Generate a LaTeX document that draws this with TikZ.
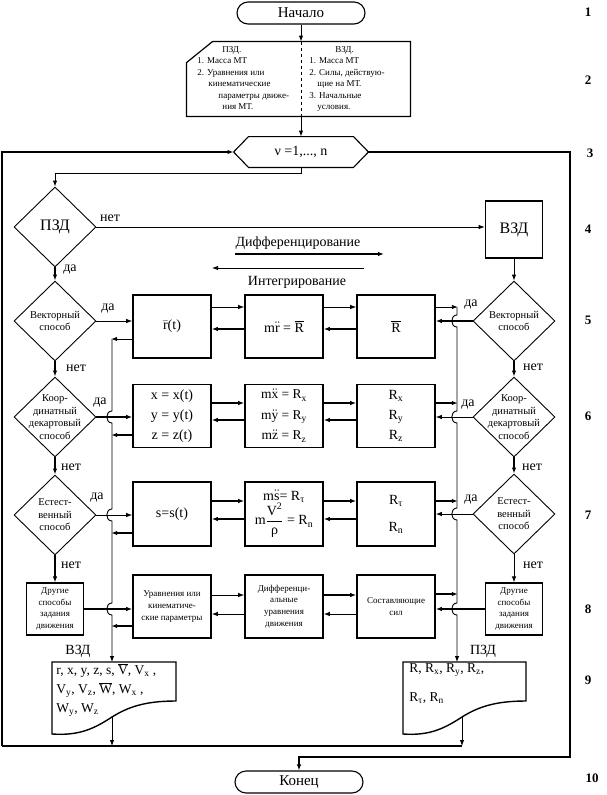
\documentclass[tikz,border=0pt]{standalone}
\usepackage{fontspec}
\setmainfont{Liberation Serif}
\usetikzlibrary{shapes.geometric, positioning, arrows.meta}

\tikzset{
  term/.style={draw, line width=1.1pt, rounded corners=11pt, minimum width=128pt, minimum height=22pt, inner sep=0pt, font=\fontsize{15}{18}\selectfont},
  cond/.style={diamond, draw, line width=0.9pt, minimum width=82pt, minimum height=80pt, inner sep=0pt},
  condtxt/.style={align=center, inner sep=0pt, font=\fontsize{10.5}{12.5}\selectfont},
  bigtxt/.style={inner sep=0pt, font=\fontsize{16}{18}\selectfont},
  box/.style={draw, line width=1.6pt, minimum width=78pt, minimum height=63pt, inner sep=1pt, align=center, font=\fontsize{14}{20}\selectfont},
  smallbox/.style={box, font=\fontsize{9}{11.7}\selectfont},
  other/.style={draw, line width=1.2pt, minimum width=57pt, minimum height=52pt, inner sep=0pt, align=center, font=\fontsize{9}{11.5}\selectfont},
  lbl/.style={inner sep=0pt, font=\fontsize{14}{16}\selectfont},
  arr/.style={-{Latex[length=6pt,width=4.5pt]}},
  fat/.style={line width=2.2pt},
  docline/.style={line width=1.4pt},
  doctxt/.style={align=left, inner sep=0pt, font=\fontsize{13.5}{19}\selectfont},
  cardtxt/.style={align=left, inner sep=0pt, font=\fontsize{9}{11.5}\selectfont},
  rownum/.style={font=\fontsize{13}{15}\selectfont\bfseries},
}

\begin{document}
\begin{tikzpicture}[x=1pt, y=-1pt, node distance=112pt, line width=0.9pt]
\useasboundingbox (0,0) rectangle (607,795);

% begin, end
\node[term] (start) at (301,13) {Начало};
\node[term] (stop) at (299,782) {Конец};

% given data card
\node[minimum width=223pt, minimum height=74pt, inner sep=0pt] (card) at (298.5,79) {};
\draw[line width=1.2pt] (card.south west) -- ([yshift=-21pt]card.north west) -- ([xshift=26pt]card.north west)
   -- (card.north east) -- (card.south east) -- cycle;
\draw[dashed] (start.south |- card.north) -- (start.south |- card.south);
\node[cardtxt, anchor=north west] (pzdlist) at (197,46) {\hspace*{25pt}ПЗД.\\1. Масса МТ\\2. Уравнения или\\\hspace*{11pt}кинематические\\\hspace*{21pt}параметры движе-\\\hspace*{25pt}ния МТ.};
\node[cardtxt, anchor=north west] (vzdlist) at (309,46) {\hspace*{26pt}ВЗД.\\1. Масса МТ\\2. Силы, действую-\\\hspace*{8pt}щие на МТ.\\3. Начальные\\\hspace*{8pt}условия.};

% loop header
\node[minimum width=134pt, minimum height=30pt, inner sep=0pt, font=\fontsize{14}{16}\selectfont] (loop) at (301,152) {ν =1,..., n};
\draw[line width=1.1pt] (loop.west) -- ([xshift=15pt]loop.north west) -- ([xshift=-15pt]loop.north east) -- (loop.east)
   -- ([xshift=-15pt]loop.south east) -- ([xshift=15pt]loop.south west) -- cycle;

\draw[arr] (start.south) -- (start.south |- card.north);
\draw[arr] (start.south |- card.south) -- (loop.north);

% left column
\node[cond, label={[bigtxt]center:ПЗД}] (pzd) at (55,227) {};
\node[cond, label={[condtxt]center:Векторный\\способ}] (vecl) at (55,321) {};
\node[cond, label={[condtxt]center:Коор-\\динатный\\декартовый\\способ}] (coorl) at (55,417) {};
\node[cond, label={[condtxt]center:Естест-\\венный\\способ}] (natl) at (55,515) {};
\node[other] (othl) at (55,609) {Другие\\способы\\задания\\движения};

% right column
\node[draw, line width=1.6pt, minimum width=57pt, minimum height=57pt, font=\fontsize{16}{18}\selectfont] (vzdb) at (514,229.5) {ВЗД};
\node[cond, label={[condtxt]center:Векторный\\способ}] (vecr) at (514,321) {};
\node[cond, label={[condtxt]center:Коор-\\динатный\\декартовый\\способ}] (coorr) at (514,417) {};
\node[cond, label={[condtxt]center:Естест-\\венный\\способ}] (natr) at (514,514) {};
\node[other] (othr) at (514,609) {Другие\\способы\\задания\\движения};

% middle boxes
\node[box] (r5) at (172,326.5) {$\bar{\mbox{r}}$(t)};
\node[box, on grid, right=of r5] (m5) {m$\ddot{\mbox{r}}$ = $\overline{\mbox{R}}$};
\node[box, on grid, right=of m5] (f5) {$\overline{\mbox{R}}$};
\node[box] (r6) at (172,416) {x = x(t)\\y = y(t)\\z = z(t)};
\node[box, font=\fontsize{13.5}{20.5}\selectfont, on grid, right=of r6] (m6) {m$\smash{\ddot{\mbox{x}}}$ = R\textsubscript{x}\\m$\smash{\ddot{\mbox{y}}}$ = R\textsubscript{y}\\m$\smash{\ddot{\mbox{z}}}$ = R\textsubscript{z}};
\node[box, on grid, right=of m6] (f6) {R\textsubscript{x}\\R\textsubscript{y}\\R\textsubscript{z}};
\node[box, minimum height=64pt] (r7) at (172,514) {s=s(t)};
\node[box, minimum height=64pt, on grid, right=of r7] (m7) {m$\ddot{\mbox{s}}$= R\textsubscript{τ}\\m$\displaystyle\frac{\mbox{V\textsuperscript{2}}}{\mbox{ρ}}$ = R\textsubscript{n}};
\node[box, minimum height=64pt, on grid, right=of m7] (f7) {R\textsubscript{τ}\\[7pt]R\textsubscript{n}};
\node[smallbox] (r8) at (172,606.5) {Уравнения или\\кинематиче-\\ские параметры};
\node[smallbox, on grid, right=of r8] (m8) {Дифференци-\\альные\\уравнения\\движения};
\node[smallbox, on grid, right=of m8] (f8) {Составляющие\\сил};

% differentiation / integration
\node[lbl] (diff) at (298,243) {Дифференцирование};
\coordinate (d1) at (235,254);
\coordinate (d2) at (384,254);
\draw[arr, fat] (d1) -- (d2);
\node[lbl] (integ) at (297,282) {Интегрирование};
\coordinate (i1) at (364,268);
\coordinate (i2) at (212,268);
\draw[arr] (i1) -- (i2);

% results
\node[lbl] (vzdhead) at (78,651) {ВЗД};
\node[doctxt, anchor=north west] (vzdres) at (56,663) {r, x, y, z, s, $\overline{\mbox{V}}$, V\textsubscript{x} ,\\V\textsubscript{y}, V\textsubscript{z}, $\overline{\mbox{W}}$, W\textsubscript{x} ,\\W\textsubscript{y}, W\textsubscript{z}};
\draw[docline] (52,662) -- (176,662) -- (176,701) .. controls (145,701) and (128,707) .. (112,717)
   .. controls (95,728) and (80,736) .. (52,734) -- cycle;
\coordinate (vzdin) at (112,662);
\coordinate (vzdout) at (112,717);
\node[lbl] (pzdhead) at (483,651) {ПЗД};
\node[doctxt, anchor=north west] (pzdres) at (409,663) {R, R\textsubscript{x}, R\textsubscript{y}, R\textsubscript{z},\\[10pt]R\textsubscript{τ}, R\textsubscript{n}};
\draw[docline] (403,662) -- (526,662) -- (526,701) .. controls (495,701) and (478,707) .. (462,717)
   .. controls (445,728) and (430,736) .. (403,734) -- cycle;
\coordinate (pzdin) at (457,662);
\coordinate (pzdout) at (462,717);

% loop lines
\coordinate (back) at (2,746);
\coordinate (exit) at (570,757);
\draw[arr, line width=1.6pt] (back) |- (loop.west);
\draw[line width=1.2pt] (back) -- (pzdout |- back);
\draw[arr] (vzdout) -- (vzdout |- back);
\draw[arr] (pzdout) -- (pzdout |- back);
\draw[arr, line width=1.5pt] (loop.east) -| (exit) -| (stop.north);
\draw[arr] (loop.south) -- ++(0,6) -| (pzd.north);

% decisions
\draw[arr] (pzd.east) -- (pzd.east -| vzdb.west);
\draw[arr, fat] (pzd.south) -- (vecl.north);
\draw[arr, fat] (vecl.south) -- (coorl.north);
\draw[arr, fat] (coorl.south) -- (natl.north);
\draw[arr, fat] (natl.south) -- (othl.north);
\draw[arr] (vzdb.south) -- (vecr.north);
\draw[arr, fat] (vecr.south) -- (coorr.north);
\draw[arr, fat] (coorr.south) -- (natr.north);
\draw[arr] (natr.south) -- (othr.north);

\draw[arr] (vecl.east) -- (vecl.east -| r5.west);
\draw[arr, fat] (coorl.east) -- (coorl.east -| r6.west);
\draw[arr] (natl.east) -- (natl.east -| r7.west);
\draw[arr, fat] (othl.east) -- (othl.east -| r8.west);
\draw[arr, fat] (vecr.west) -- (vecr.west -| f5.east);
\draw[arr] (coorr.west) -- (coorr.west -| f6.east);
\draw[arr] (natr.west) -- (natr.west -| f7.east);
\draw[arr, fat] (othr.west) -- (othr.west -| f8.east);

% yes / no
\node[lbl] at ([xshift=55pt, yshift=9pt]pzd) {нет};
\node[lbl] at ([xshift=15pt, yshift=-43pt]pzd) {да};
\node[lbl] at ([xshift=53pt, yshift=12pt]vecl) {да};
\node[lbl] at ([xshift=21pt, yshift=-47pt]vecl) {нет};
\node[lbl] at ([xshift=45pt, yshift=14pt]coorl) {да};
\node[lbl] at ([xshift=16pt, yshift=-50pt]coorl) {нет};
\node[lbl] at ([xshift=42pt, yshift=17pt]natl) {да};
\node[lbl] at ([xshift=16pt, yshift=-50pt]natl) {нет};
\node[lbl] at ([xshift=-43pt, yshift=16pt]vecr) {да};
\node[lbl] at ([xshift=19pt, yshift=-46pt]vecr) {нет};
\node[lbl] at ([xshift=-46pt, yshift=12pt]coorr) {да};
\node[lbl] at ([xshift=18pt, yshift=-50pt]coorr) {нет};
\node[lbl] at ([xshift=-43pt, yshift=14pt]natr) {да};
\node[lbl] at ([xshift=19pt, yshift=-51pt]natr) {нет};

% between the boxes
\draw[arr] ([yshift=19.5pt]r5.east) -- ([yshift=19.5pt]m5.west);
\draw[arr, fat] ([yshift=-2.5pt]m5.west) -- ([yshift=-2.5pt]r5.east);
\draw[arr] ([yshift=19.5pt]m5.east) -- ([yshift=19.5pt]f5.west);
\draw[arr, fat] ([yshift=-2.5pt]f5.west) -- ([yshift=-2.5pt]m5.east);
\draw[arr, fat] ([yshift=13pt]r6.east) -- ([yshift=13pt]m6.west);
\draw[arr, fat] ([yshift=-4pt]m6.west) -- ([yshift=-4pt]r6.east);
\draw[arr, fat] ([yshift=13pt]m6.east) -- ([yshift=13pt]f6.west);
\draw[arr, fat] ([yshift=-4pt]f6.west) -- ([yshift=-4pt]m6.east);
\draw[arr, fat] ([yshift=13pt]r7.east) -- ([yshift=13pt]m7.west);
\draw[arr, fat] ([yshift=-5pt]m7.west) -- ([yshift=-5pt]r7.east);
\draw[arr, fat] ([yshift=13pt]m7.east) -- ([yshift=13pt]f7.west);
\draw[arr, fat] ([yshift=-5pt]f7.west) -- ([yshift=-5pt]m7.east);
\draw[arr] ([yshift=11.5pt]r8.east) -- ([yshift=11.5pt]m8.west);
\draw[arr] ([yshift=-7.5pt]m8.west) -- ([yshift=-7.5pt]r8.east);
\draw[arr, fat] ([yshift=11.5pt]m8.east) -- ([yshift=11.5pt]f8.west);
\draw[arr] ([yshift=-7.5pt]f8.west) -- ([yshift=-7.5pt]m8.east);

% into the buses
\draw[arr] ([yshift=-12.5pt]r5.west) -- +(-21,0);
\draw[arr, fat] ([yshift=-19pt]r6.west) -- +(-21,0);
\draw[arr, fat] ([yshift=-19pt]r7.west) -- +(-21,0);
\draw[arr, fat] ([yshift=-19.5pt]r8.west) -- +(-21,0);
\draw[arr] ([yshift=19.5pt]f5.east) -- +(22,0);
\draw[arr, fat] ([yshift=13pt]f6.east) -- +(22,0);
\draw[arr, fat] ([yshift=13pt]f7.east) -- +(22,0);
\draw[arr, fat] ([yshift=12.5pt]f8.east) -- +(22,0);

% buses
\coordinate (lbus) at (112,339);
\coordinate (rbus) at (457,307);
\draw[arr] (lbus) -- (112,411) .. controls (105,411) and (105,423) .. (112,423)
   -- (112,509) .. controls (105,509) and (105,521) .. (112,521)
   -- (112,603) .. controls (105,603) and (105,615) .. (112,615) -- (vzdin);
\draw[arr] (rbus) -- (457,315) .. controls (450,315) and (450,327) .. (457,327)
   -- (457,411) .. controls (450,411) and (450,423) .. (457,423)
   -- (457,508) .. controls (450,508) and (450,520) .. (457,520)
   -- (457,603) .. controls (450,603) and (450,615) .. (457,615) -- (pzdin);

% row numbers
\node[rownum] (n1) at (588,12) {1};
\node[rownum] (n2) at (588,80) {2};
\node[rownum] (n3) at (590,153) {3};
\node[rownum] (n4) at (588,229) {4};
\node[rownum] (n5) at (588,320) {5};
\node[rownum] (n6) at (588,416) {6};
\node[rownum] (n7) at (588,515) {7};
\node[rownum] (n8) at (588,609) {8};
\node[rownum] (n9) at (588,680) {9};
\node[rownum] (n10) at (592,778) {10};
\end{tikzpicture}
\end{document}
